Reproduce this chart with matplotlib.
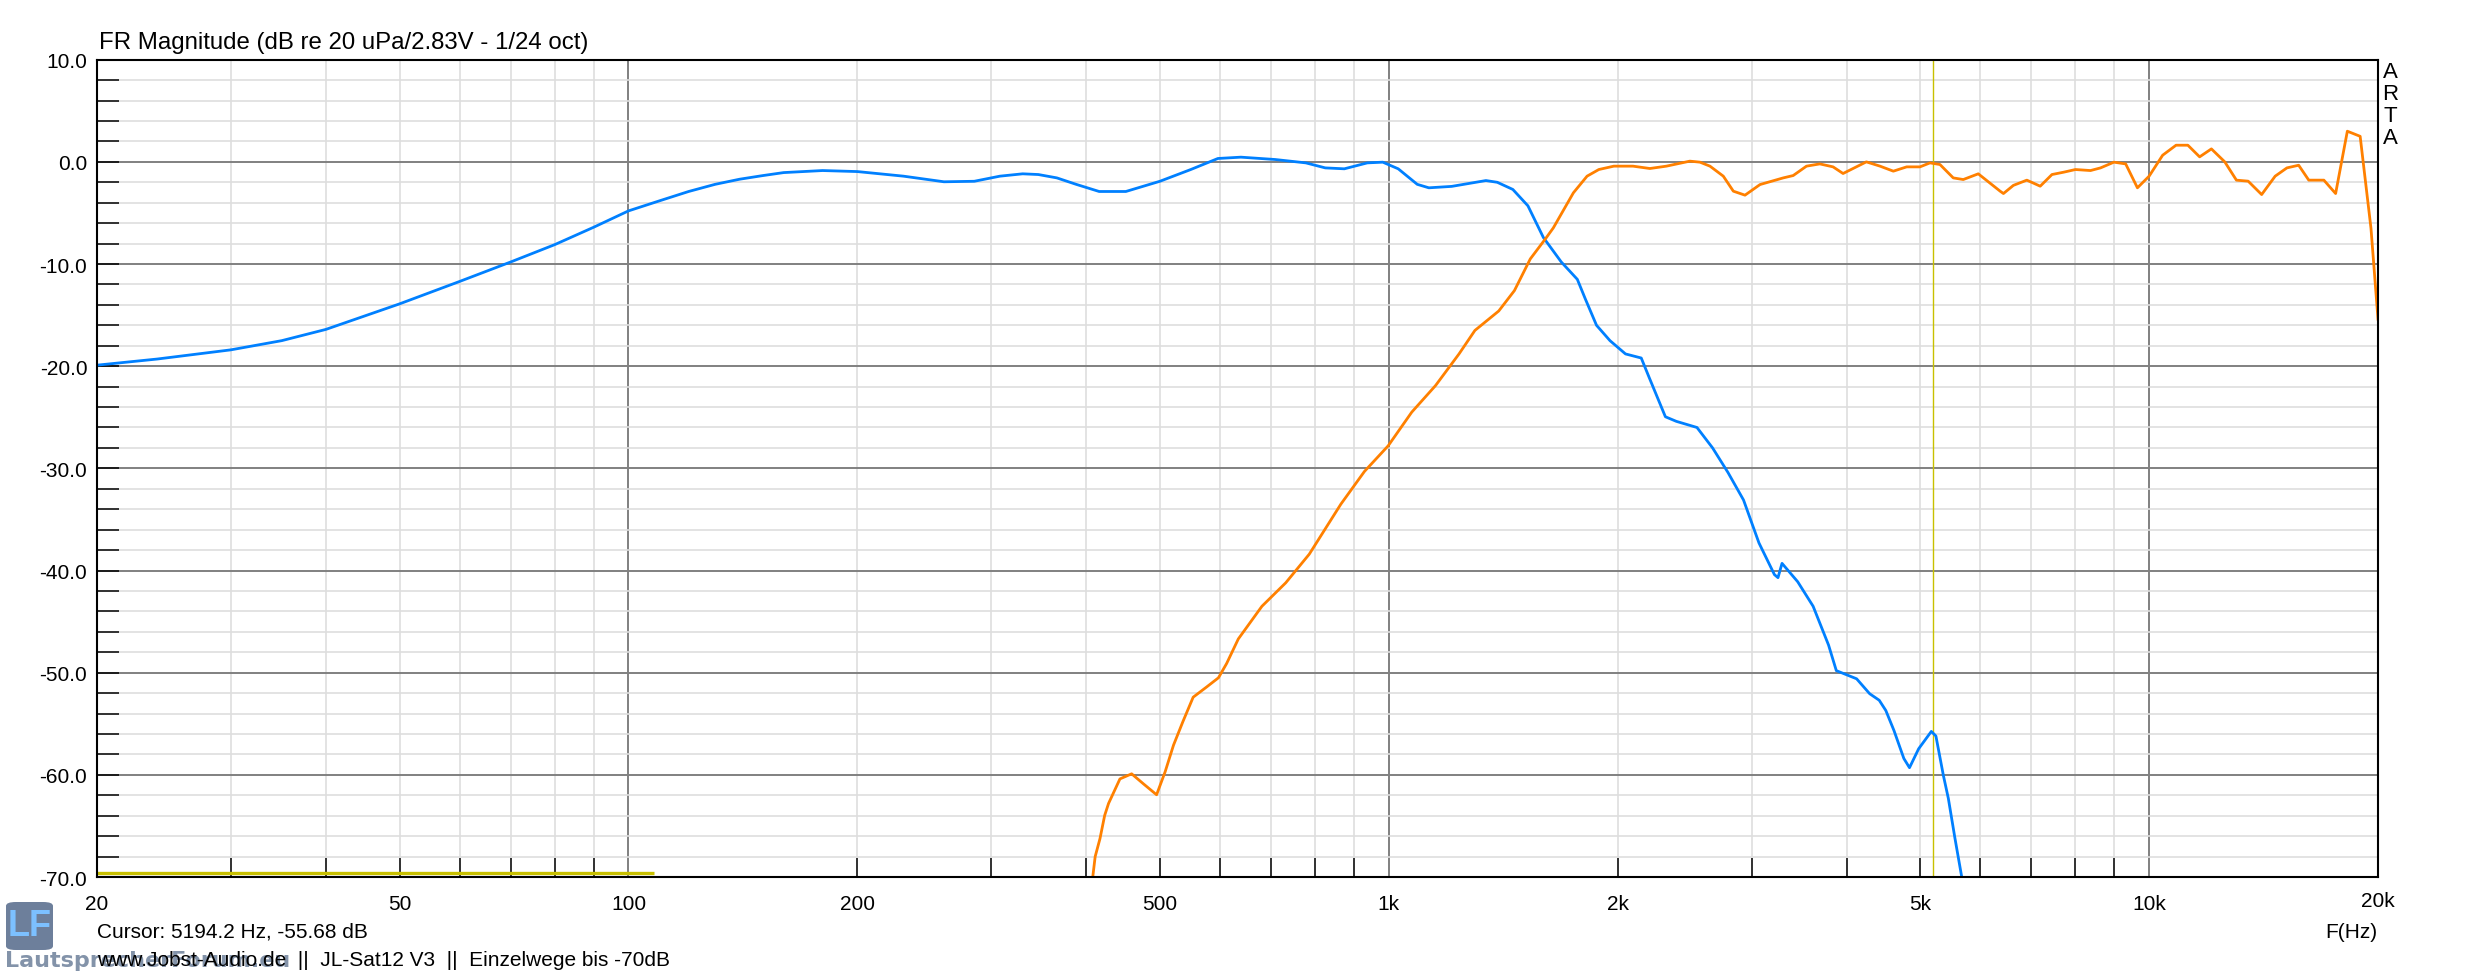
"""ARTA style frequency response plot: JL-Sat12 V3 driver responses."""

import matplotlib
matplotlib.use("Agg")
import matplotlib.pyplot as plt
from matplotlib.patches import FancyBboxPatch

plt.rcParams["font.family"] = ["Liberation Sans", "DejaVu Sans"]

# woofer (blue) response, Hz / dB
woofer_f = [20, 24, 30, 35, 40, 50, 60, 70, 80, 90, 100, 110, 120, 130, 140, 150, 160,
            180, 200, 230, 260, 285, 308, 330, 346, 366, 388, 416, 451, 500, 549, 596,
            639, 709, 778, 825, 874, 937, 982, 1029, 1090, 1129, 1210, 1342, 1389, 1456,
            1524, 1597, 1686, 1770, 1813, 1876, 1954, 2048, 2148, 2200, 2311, 2389,
            2543, 2666, 2793, 2928, 3068, 3215, 3250, 3290, 3450, 3615, 3788, 3878,
            4124, 4290, 4416, 4505, 4617, 4758, 4840, 4976, 5171, 5243, 5363, 5444,
            5554, 5665, 5750]
woofer_db = [-19.9, -19.3, -18.4, -17.5, -16.4, -13.9, -11.7, -9.8, -8.1, -6.4, -4.8,
             -3.8, -2.9, -2.2, -1.7, -1.35, -1.05, -0.85, -0.95, -1.4, -1.95, -1.9, -1.4,
             -1.17, -1.24, -1.57, -2.2, -2.9, -2.9, -1.9, -0.75, 0.33, 0.46, 0.23, -0.1,
             -0.59, -0.68, -0.1, -0.03, -0.68, -2.2, -2.54, -2.4, -1.83, -2.0, -2.7,
             -4.3, -7.4, -9.8, -11.5, -13.4, -16.0, -17.5, -18.8, -19.2, -21.1, -24.95,
             -25.4, -26.0, -28.0, -30.4, -33.1, -37.3, -40.4, -40.7, -39.3, -41.1, -43.5,
             -47.3, -49.8, -50.6, -52.06, -52.7, -53.7, -55.65, -58.4, -59.3, -57.45,
             -55.75, -56.2, -60.06, -62.3, -66.2, -69.85, -73.0]

# tweeter (orange) response, Hz / dB
tweeter_f = [405, 408, 411, 417, 423, 428, 443, 459, 476, 495, 508, 521, 536, 553, 576,
             597, 612, 634, 681, 732, 786, 865, 929, 998, 1072, 1152, 1237, 1298, 1395,
             1463, 1535, 1612, 1646, 1749, 1823, 1889, 1977, 2095, 2205, 2318, 2489,
             2566, 2645, 2754, 2839, 2941, 3078, 3302, 3403, 3543, 3689, 3840, 3958,
             4247, 4427, 4609, 4799, 4996, 5150, 5308, 5526, 5696, 5961, 6369, 6433,
             6630, 6905, 7191, 7451, 7721, 8000, 8373, 8632, 8989, 9315, 9652, 10000,
             10418, 10850, 11245, 11653, 12076, 12575, 13026, 13498, 14061, 14648,
             15179, 15729, 16217, 16976, 17591, 18227, 18948, 19579, 20000]
tweeter_db = [-72.0, -70.0, -68.0, -66.25, -63.97, -62.8, -60.4, -59.9, -60.9, -61.95,
              -59.7, -57.1, -54.8, -52.4, -51.4, -50.5, -49.1, -46.7, -43.5, -41.2,
              -38.4, -33.5, -30.3, -27.8, -24.5, -21.9, -18.8, -16.5, -14.6, -12.6,
              -9.5, -7.4, -6.46, -3.03, -1.40, -0.75, -0.42, -0.42, -0.65, -0.42, 0.07,
              -0.03, -0.42, -1.4, -2.87, -3.26, -2.22, -1.57, -1.34, -0.42, -0.2, -0.49,
              -1.14, 0.0, -0.42, -0.91, -0.49, -0.49, -0.1, -0.26, -1.57, -1.73, -1.17,
              -2.87, -3.1, -2.3, -1.79, -2.38, -1.24, -1.01, -0.75, -0.85, -0.59, -0.03,
              -0.2, -2.54, -1.40, 0.65, 1.63, 1.63, 0.49, 1.27, 0.0, -1.79, -1.89, -3.2,
              -1.40, -0.59, -0.33, -1.79, -1.79, -3.1, 3.0, 2.5, -6.5, -15.4]

# yellow reference line at the bottom
ref_f = [20, 108]
ref_db = [-69.6, -69.6]

cursor_f = 5194.2
cursor_text = "Cursor: 5194.2 Hz, -55.68 dB"
footer_text = "www.Jobst-Audio.de  ||  JL-Sat12 V3  ||  Einzelwege bis -70dB"
title_text = "FR Magnitude (dB re 20 uPa/2.83V - 1/24 oct)"

xtick_vals = [20, 50, 100, 200, 500, 1000, 2000, 5000, 10000, 20000]
xtick_labels = ["20", "50", "100", "200", "500", "1k", "2k", "5k", "10k", ""]
ytick_vals = [10, 0, -10, -20, -30, -40, -50, -60, -70]

W, H = 2473, 978


def fx(px):
    return px / W


def fy(py):
    return 1 - py / H


fig = plt.figure(figsize=(W / 100, H / 100), dpi=100)
ax = fig.add_axes([fx(97), fy(878), (2378 - 97) / W, (878 - 60.7) / H])
ax.set_xscale("log")
ax.set_xlim(20, 20000)
ax.set_ylim(-70, 10)

# grid
minor_f = [m * 10 ** k for k in range(1, 5) for m in range(2, 10)
           if 20 < m * 10 ** k < 20000]
for f in minor_f:
    ax.axvline(f, color="#dedede", lw=1.2, zorder=1)
for f in [100, 1000, 10000]:
    ax.axvline(f, color="#808080", lw=1.4, zorder=1)
for d in range(-68, 10, 2):
    ax.axhline(d, color="#808080" if d % 10 == 0 else "#dedede",
               lw=1.4 if d % 10 == 0 else 1.2, zorder=1)

ax.plot(ref_f, ref_db, color="#c8c000", lw=2.4, zorder=3, solid_capstyle="butt")
ax.axvline(cursor_f, color="#c8c000", lw=1.0, zorder=2)
ax.plot(woofer_f, woofer_db, color="#0080ff", lw=2.0, zorder=4)
ax.plot(tweeter_f, tweeter_db, color="#ff8000", lw=2.0, zorder=4)

ax.set_xticks(xtick_vals)
ax.set_xticklabels(xtick_labels)
ax.set_xticks(minor_f, minor=True)
ax.xaxis.remove_overlapping_locs = False
ax.set_yticks(ytick_vals)
ax.set_yticklabels([f"{v:.1f}" for v in ytick_vals])
ax.set_yticks(list(range(-68, 10, 2)), minor=True)
ax.yaxis.remove_overlapping_locs = False
ax.tick_params(axis="both", which="major", length=0, labelsize=15)
ax.tick_params(axis="x", which="major", pad=12)
ax.tick_params(axis="y", which="major", pad=7)
ax.tick_params(axis="x", which="minor", direction="in", length=14, width=1.1,
               color="black", bottom=True, top=False)
ax.tick_params(axis="y", which="minor", direction="in", length=16, width=1.1,
               color="black", left=True, right=False)
for sp in ax.spines.values():
    sp.set_linewidth(1.5)
    sp.set_color("black")
    sp.set_zorder(5)

# texts
fig.text(fx(99), fy(48.5), title_text, fontsize=17.3, va="baseline", ha="left")
for i, ch in enumerate("ARTA"):
    fig.text(fx(2390), fy(72 + 22.3 * i), ch, fontsize=16, ha="center", va="center")
fig.text(fx(2378), fy(902), "20k", fontsize=15, ha="center", va="center")
fig.text(fx(2377), fy(933), "F(Hz)", fontsize=15, ha="right", va="center")
fig.text(fx(97), fy(932), cursor_text, fontsize=15, ha="left", va="center")

# forum logo (drawn under the footer text)
logo = FancyBboxPatch((fx(6), fy(951)), fx(47), 48 / H,
                      boxstyle="round,pad=0,rounding_size=0.004",
                      transform=fig.transFigure, facecolor="#5d7190",
                      edgecolor="none", alpha=0.9, zorder=1)
fig.patches.append(logo)
fig.text(fx(29.5), fy(927), "LF", fontsize=26, fontweight="bold", color="#7cc0ff",
         ha="center", va="center")
fig.text(fx(5), fy(961), "LautsprecherForum.eu", fontsize=16, fontweight="bold",
         family="DejaVu Sans", color="#4e6585", alpha=0.7, ha="left", va="center")
fig.text(fx(97), fy(961), footer_text, fontsize=15, ha="left", va="center")

fig.savefig("out.png", dpi=100)
